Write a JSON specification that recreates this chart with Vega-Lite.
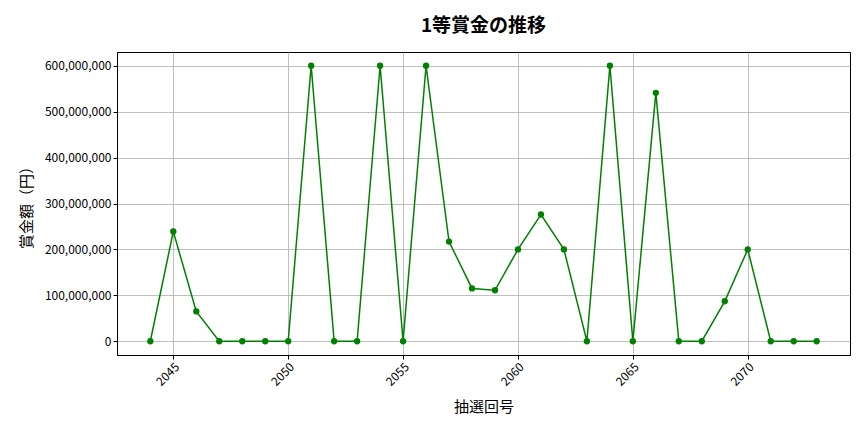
{
  "$schema": "https://vega.github.io/schema/vega-lite/v6.json",
  "autosize": "none",
  "width": 733,
  "height": 303,
  "padding": {"left": 117, "top": 52, "right": 14, "bottom": 77},
  "background": "white",
  "title": {
    "text": "1等賞金の推移",
    "font": "Noto Sans CJK JP",
    "fontSize": 19,
    "fontWeight": "bold",
    "color": "#000000",
    "offset": 16
  },
  "config": {
    "view": {"stroke": "#000000", "strokeWidth": 1},
    "axis": {
      "labelFont": "Noto Sans CJK JP",
      "titleFont": "Noto Sans CJK JP",
      "labelFontSize": 12,
      "titleFontSize": 15,
      "titleFontWeight": "normal",
      "labelColor": "#000000",
      "titleColor": "#000000",
      "gridColor": "#b0b0b0",
      "gridWidth": 0.8,
      "domainColor": "#000000",
      "tickColor": "#000000",
      "tickSize": 4
    }
  },
  "data": {
    "values": [
      {"draw": 2044, "prize": 0},
      {"draw": 2045, "prize": 239000000},
      {"draw": 2046, "prize": 65000000},
      {"draw": 2047, "prize": 0},
      {"draw": 2048, "prize": 0},
      {"draw": 2049, "prize": 0},
      {"draw": 2050, "prize": 0},
      {"draw": 2051, "prize": 600000000},
      {"draw": 2052, "prize": 0},
      {"draw": 2053, "prize": 0},
      {"draw": 2054, "prize": 600000000},
      {"draw": 2055, "prize": 0},
      {"draw": 2056, "prize": 600000000},
      {"draw": 2057, "prize": 217000000},
      {"draw": 2058, "prize": 115000000},
      {"draw": 2059, "prize": 111000000},
      {"draw": 2060, "prize": 200000000},
      {"draw": 2061, "prize": 276000000},
      {"draw": 2062, "prize": 200000000},
      {"draw": 2063, "prize": 0},
      {"draw": 2064, "prize": 600000000},
      {"draw": 2065, "prize": 0},
      {"draw": 2066, "prize": 541000000},
      {"draw": 2067, "prize": 0},
      {"draw": 2068, "prize": 0},
      {"draw": 2069, "prize": 87000000},
      {"draw": 2070, "prize": 200000000},
      {"draw": 2071, "prize": 0},
      {"draw": 2072, "prize": 0},
      {"draw": 2073, "prize": 0}
    ]
  },
  "encoding": {
    "x": {
      "field": "draw",
      "type": "quantitative",
      "title": "抽選回号",
      "scale": {"domain": [2042.55, 2074.45], "nice": false, "zero": false},
      "axis": {
        "values": [2045, 2050, 2055, 2060, 2065, 2070],
        "format": "d",
        "labelAngle": -45,
        "labelAlign": "right",
        "labelBaseline": "top",
        "titlePadding": 12
      }
    },
    "y": {
      "field": "prize",
      "type": "quantitative",
      "title": "賞金額（円）",
      "scale": {"domain": [-30000000, 630000000], "nice": false, "zero": false},
      "axis": {
        "values": [0, 100000000, 200000000, 300000000, 400000000, 500000000, 600000000],
        "format": ",d",
        "titlePadding": 10
      }
    }
  },
  "layer": [
    {"mark": {"type": "line", "color": "#008000", "strokeWidth": 1.5}},
    {"mark": {"type": "point", "filled": true, "color": "#008000", "opacity": 1, "size": 40}}
  ]
}
